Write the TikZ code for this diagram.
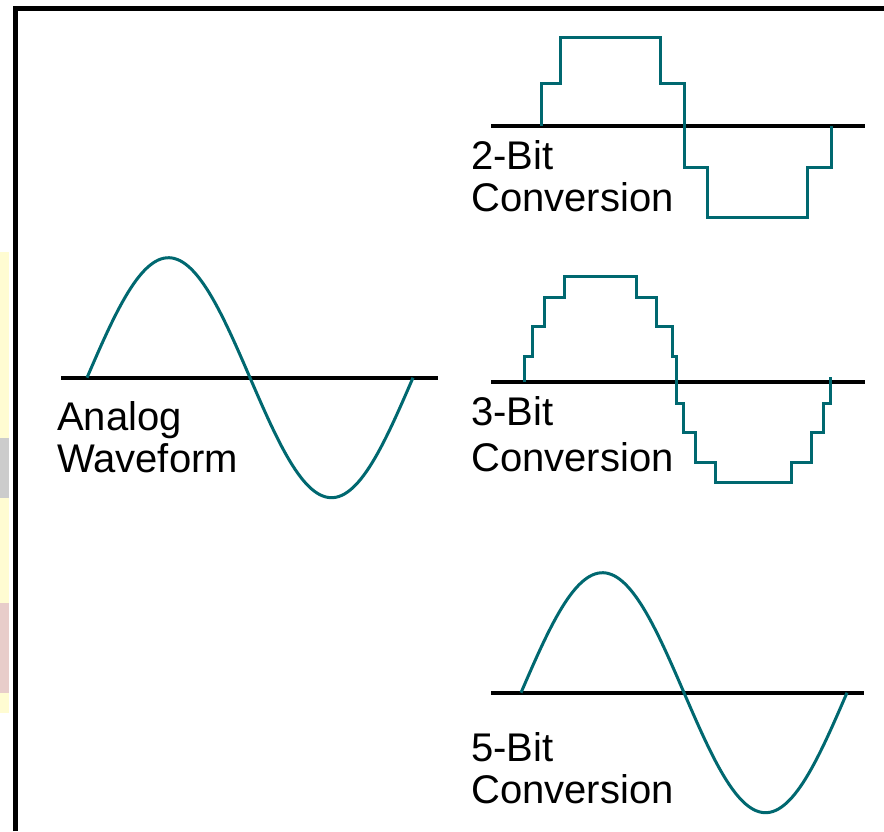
\documentclass[tikz,border=0pt]{standalone}
\usepackage{fontspec}
\setmainfont{Liberation Sans}
\definecolor{waveteal}{RGB}{0,104,112}
\definecolor{stripyellow}{RGB}{255,252,210}
\definecolor{stripgray}{RGB}{204,204,204}
\definecolor{strippink}{RGB}{232,205,202}
\begin{document}
\begin{tikzpicture}[x=1pt,y=-1pt,
  wave/.style={draw=waveteal,line width=3pt,line join=miter},
  axisline/.style={draw=black,line width=4pt},
  frameline/.style={draw=black,line width=5pt},
  lbl/.style={anchor=base west,inner sep=0pt,font=\fontsize{40}{42}\selectfont}]
\useasboundingbox (0,0) rectangle (884,831);
\fill[white] (0,0) rectangle (884,831);
% faint left strip
\fill[stripyellow] (0,252) rectangle (9,713);
\fill[stripgray] (0,438) rectangle (9,498);
\fill[strippink] (0,603) rectangle (9,693);
% frame
\draw[frameline] (15,831) -- (15,8.5) -- (884,8.5);

% ---- Analog waveform ----
\draw[axisline] (61,377.7) -- (438,377.7);
\draw[wave] plot[domain=0:360,samples=120] ({87+\x*0.90556},{377.7-120*sin(\x)});
\node[lbl] (analog) at (57,430) {Analog};
\node[lbl] (waveform) at (57,472) {Waveform};

% ---- 2-bit ----
\draw[axisline] (491,126) -- (865,126);
\draw[wave] (541,126) -- (541,83) -- (560,83) -- (560,37) -- (660,37) -- (660,83)
  -- (684,83) -- (684,167) -- (707,167) -- (707,217) -- (807,217) -- (807,167)
  -- (831,167) -- (831,126);
\node[lbl] (twobit) at (471,169.3) {2-Bit};
\node[lbl] (conv2) at (471,211) {Conversion};

% ---- 3-bit ----
\draw[axisline] (491,381.7) -- (865,381.7);
\draw[wave] (524.3,381.7) -- (524.3,356.7) -- (532,356.7) -- (532,326.7) -- (544,326.7)
  -- (544,297) -- (564,297) -- (564,276) -- (636,276) -- (636,297) -- (656,297)
  -- (656,326.7) -- (672,326.7) -- (672,356.7) -- (676,356.7) -- (676,403)
  -- (683,403) -- (683,432.7) -- (695,432.7) -- (695,462) -- (715,462) -- (715,482.7)
  -- (791,482.7) -- (791,462) -- (811,462) -- (811,432.7) -- (823,432.7) -- (823,403)
  -- (830.7,403) -- (830.7,376.7);
\node[lbl] (threebit) at (471,425) {3-Bit};
\node[lbl] (conv3) at (471,471.7) {Conversion};

% ---- 5-bit ----
\draw[axisline] (491,692.7) -- (864,692.7);
\draw[wave] plot[domain=0:360,samples=120] ({521+\x*0.90556},{692.7-120*sin(\x)});
\node[lbl] (fivebit) at (471,761) {5-Bit};
\node[lbl] (conv5) at (471,803) {Conversion};
\end{tikzpicture}
\end{document}
